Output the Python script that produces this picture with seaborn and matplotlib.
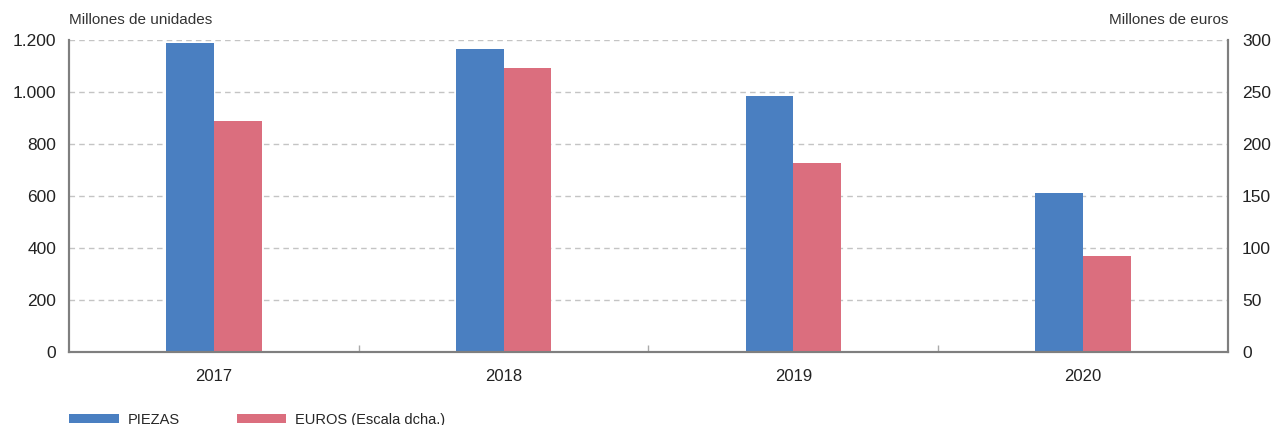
import matplotlib
matplotlib.use("Agg")
import matplotlib.pyplot as plt
import pandas as pd
import seaborn as sns
from matplotlib.patches import Patch
from matplotlib.ticker import FuncFormatter, MultipleLocator, FixedLocator

# data
years = ["2017", "2018", "2019", "2020"]
piezas = [1189, 1164, 983, 612]   # millones de unidades (left axis)
euros = [222.5, 273.5, 182, 92]   # millones de euros (right axis)
series = ["PIEZAS", "EUROS"]
labels = ["PIEZAS", "EUROS (Escala dcha.)"]

blue = "#4A7FC1"
red = "#DB6E7E"
grey = "#7f7f7f"

df_p = pd.DataFrame({"year": years, "value": piezas, "serie": "PIEZAS"})
df_e = pd.DataFrame({"year": years, "value": euros, "serie": "EUROS"})

sns.set_style("white")
plt.rcParams["font.family"] = ["Liberation Sans", "DejaVu Sans"]

fig, ax = plt.subplots(figsize=(12.74, 4.25), dpi=100)
fig.subplots_adjust(left=0.054, right=0.964, top=0.906, bottom=0.172)
ax2 = ax.twinx()

palette = {"PIEZAS": blue, "EUROS": red}
sns.barplot(data=df_p, x="year", y="value", hue="serie", hue_order=series,
            order=years, palette=palette, width=0.33, dodge=True, ax=ax,
            legend=False, saturation=1, edgecolor="none")
sns.barplot(data=df_e, x="year", y="value", hue="serie", hue_order=series,
            order=years, palette=palette, width=0.33, dodge=True, ax=ax2,
            legend=False, saturation=1, edgecolor="none")

ax.set_xlim(-0.5, 3.5)
ax.set_ylim(0, 1200)
ax2.set_ylim(0, 300)
ax.yaxis.set_major_locator(MultipleLocator(200))
ax2.yaxis.set_major_locator(MultipleLocator(50))
ax.yaxis.set_major_formatter(FuncFormatter(lambda v, p: f"{int(v):,}".replace(",", ".")))

ax.set_axisbelow(True)
ax.grid(axis="y", linestyle=(0, (4, 3)), color="#c4c4c4", linewidth=1)
ax.grid(axis="x", visible=False)
ax2.grid(False)

for a in (ax, ax2):
    a.set_xlabel("")
    a.set_ylabel("")
    a.spines["top"].set_visible(False)
    for s in ("left", "right", "bottom"):
        a.spines[s].set_color(grey)
        a.spines[s].set_linewidth(1.5)

ax.tick_params(axis="y", length=0, pad=9, labelsize=12.5, labelcolor="#222222")
ax2.tick_params(axis="y", length=0, pad=10, labelsize=12.5, labelcolor="#222222")
ax.tick_params(axis="x", which="major", length=0, pad=12, labelsize=12, labelcolor="#222222")
ax.xaxis.set_minor_locator(FixedLocator([0.5, 1.5, 2.5]))
ax.tick_params(axis="x", which="minor", bottom=True, direction="in", length=5,
               color="#aaaaaa", width=1)

ax.text(0, 1.04, "Millones de unidades", transform=ax.transAxes, fontsize=11,
        color="#333333", ha="left", va="bottom")
ax.text(1, 1.04, "Millones de euros", transform=ax.transAxes, fontsize=11,
        color="#333333", ha="right", va="bottom")

handles = [Patch(facecolor=blue, edgecolor="none"), Patch(facecolor=red, edgecolor="none")]
fig.legend(handles, labels, loc="lower left", bbox_to_anchor=(0.044, -0.035),
           ncol=2, frameon=False, handlelength=3.4, handleheight=0.65,
           columnspacing=3.9, handletextpad=0.6,
           prop={"family": ["Liberation Sans Narrow", "Liberation Sans"], "size": 10.5})

fig.savefig("out.png", dpi=100)
